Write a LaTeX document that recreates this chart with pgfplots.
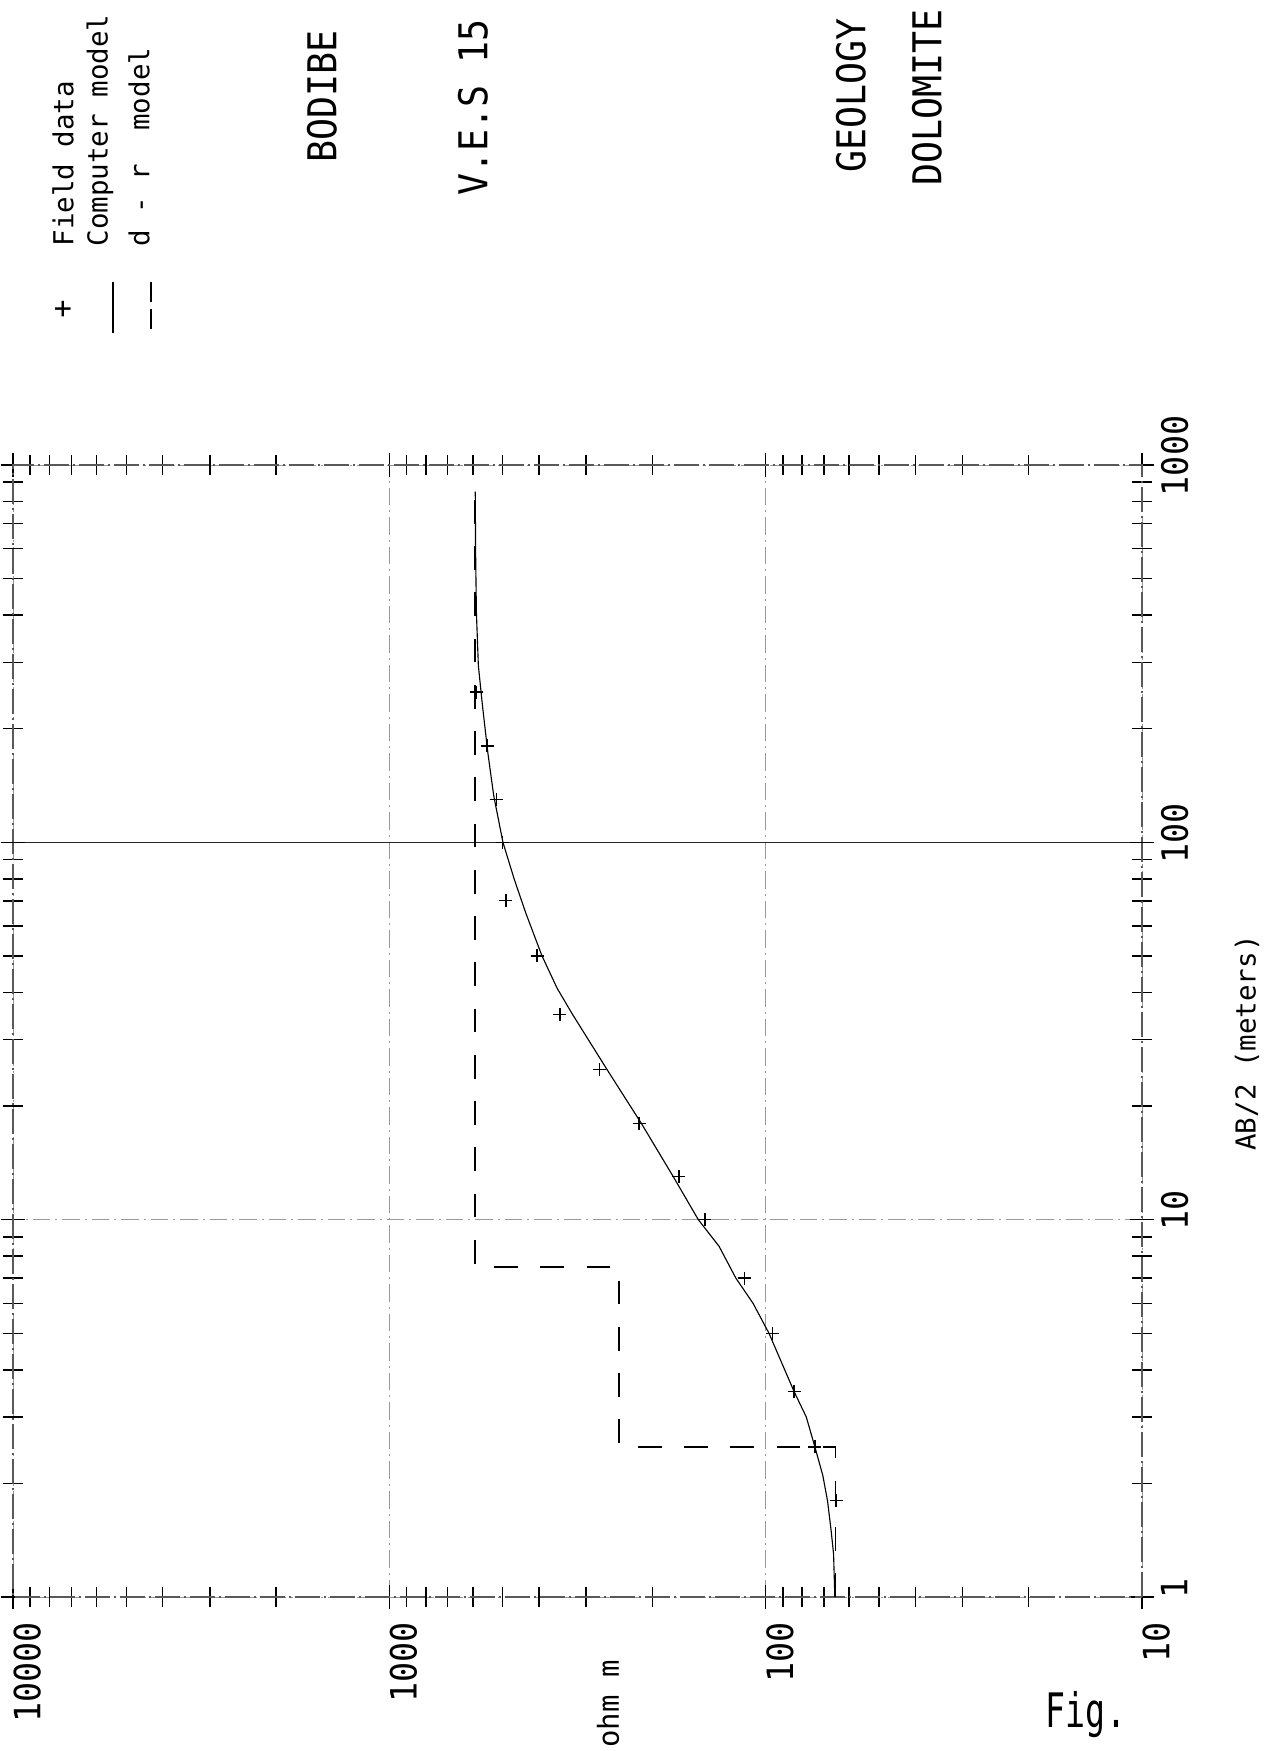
\documentclass[border=0pt]{standalone}
\usepackage{fontspec}
\usepackage{pgfplots}
\pgfplotsset{compat=1.18}
\setmainfont{DejaVu Sans Mono}
\newfontfamily\pf[FakeStretch=0.92]{DejaVu Sans Mono}
\newfontfamily\pfleg{DejaVu Sans Mono}
\newfontfamily\pffig[FakeStretch=0.7]{DejaVu Sans Mono}
\begin{document}
\begin{tikzpicture}
\path[use as bounding box] (0,0) rectangle (508.4pt,700.4pt);
\begin{axis}[
  at={(5.2pt,61.6pt)}, anchor=south west,
  scale only axis, width=451.6pt, height=452.8pt,
  xmode=log, ymode=log, x dir=reverse,
  xmin=10, xmax=10000, ymin=1, ymax=1000,
  xtick={10,100,1000,10000}, xticklabels={10,100,1000,10000},
  minor xtick={20,30,40,50,60,70,80,90,200,300,400,500,600,700,800,900,2000,3000,4000,5000,6000,7000,8000,9000},
  ytick={1,10,1000}, yticklabels={1,10,1000},
  extra y ticks={100}, extra y tick labels={100},
  extra y tick style={grid=major, major grid style={solid, black!85, line width=0.65pt}},
  minor ytick={2,3,4,5,6,7,8,9,20,30,40,50,60,70,80,90,200,300,400,500,600,700,800,900},
  grid=major,
  major grid style={black!40, line width=0.35pt, dash pattern=on 7pt off 2pt on 0.8pt off 2pt},
  axis line style={black!65, line width=0.45pt, dash pattern=on 10pt off 1.5pt on 1pt off 1.5pt},
  tick align=center, major tick length=10pt, minor tick length=8pt,
  every tick/.style={black, line width=0.6pt},
  xtick pos=both, ytick pos=both,
  yticklabel pos=right,
  tick label style={font=\pf\fontsize{14.5}{16}\selectfont, inner sep=0pt},
  xticklabel style={rotate=90, anchor=north east},
  yticklabel style={yshift=3.6pt, rotate=90, anchor=north},
  xticklabel shift=4.8pt, yticklabel shift=2.4pt,
]
% Computer model
\addplot[black, line width=0.45pt, no marks] coordinates {
(65.5,1) (66,1.3) (67,1.5) (68.5,1.8) (70.5,2.1) (74,2.5) (78,3) (84,3.5) (89,4)
(98,5) (108,6) (120,7) (133,8.5) (151,10) (176,13) (214,18) (264,25) (326,35)
(358,41) (393,50) (434,65) (466,80) (499,100) (528,133) (547,172) (565,228)
(580,294) (587,407) (590,600) (591,850)};
% d - r model
\addplot[black, line width=0.6pt, no marks, dash pattern=on 9.5pt off 9pt] coordinates {
(65.3,1) (65.3,2.5) (245,2.5) (245,7.5) (592,7.5) (592,850)};
% Field data
\addplot[only marks, mark=+, mark size=2.6pt, mark options={black, line width=0.55pt}] coordinates {
(65,1.8) (74,2.5) (84,3.5) (96,5) (114,7) (145,10) (170,13) (217,18) (276,25)
(352,35) (405,50) (490,70) (500,100) (520,130) (550,180) (588,250)};
\end{axis}
\begin{scope}[x=0.4pt, y=0.4pt]
% legend
\node[inner sep=0pt, font=\pfleg\fontsize{12}{12}\selectfont] at (63,1441) {+};
\draw[black, line width=0.6pt] (113,1469) -- (113,1418);
\draw[black, line width=0.6pt, dash pattern=on 8pt off 3pt] (151,1469) -- (151,1418);
\begin{scope}[every node/.style={rotate=90, anchor=west, inner sep=0pt, font=\pfleg\fontsize{11}{11}\selectfont}]
\node at (63,1504) {Field data};
\node at (100,1504) {Computer model};
\node at (139,1504) {d - r\ \ model};
\end{scope}
\begin{scope}[every node/.style={rotate=90, anchor=west, inner sep=0pt, font=\pf\fontsize{15.9}{16}\selectfont}]
\node at (322,1588) {BODIBE};
\node at (473,1555) {V.E.S 15};
\node at (851,1578) {GEOLOGY};
\node at (927,1565) {DOLOMITE};
\end{scope}
\node[rotate=90, inner sep=0pt, font=\pfleg\fontsize{11}{11}\selectfont] at (1247,708) {AB/2 (meters)};
\node[rotate=90, inner sep=0pt, font=\pfleg\fontsize{11.6}{12}\selectfont] at (608,47) {ohm m};
\node[inner sep=0pt, font=\pffig\fontsize{19}{20}\selectfont] at (1086,36) {Fig.};
\end{scope}
\end{tikzpicture}
\end{document}
